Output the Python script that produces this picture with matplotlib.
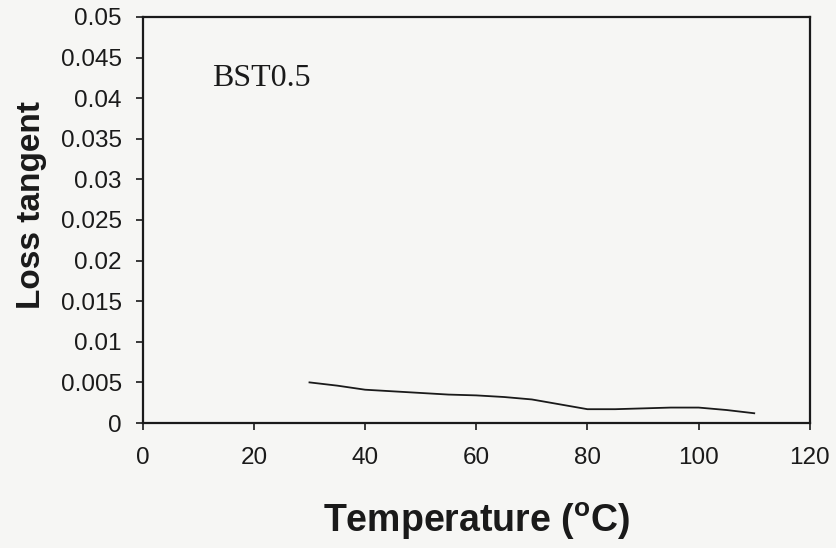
import matplotlib.pyplot as plt

# Loss tangent of BST0.5 versus temperature
temperature = [30, 35, 40, 45, 50, 55, 60, 65, 70, 75, 80, 85, 90, 95, 100, 105, 110]
loss_tangent = [0.0050, 0.0046, 0.0041, 0.0039, 0.0037, 0.0035, 0.0034, 0.0032, 0.0029,
                0.0023, 0.0017, 0.0017, 0.0018, 0.0019, 0.0019, 0.0016, 0.0012]

xticks = [0, 20, 40, 60, 80, 100, 120]
yticks = [0, 0.005, 0.01, 0.015, 0.02, 0.025, 0.03, 0.035, 0.04, 0.045, 0.05]
ytick_labels = ['0', '0.005', '0.01', '0.015', '0.02', '0.025', '0.03',
                '0.035', '0.04', '0.045', '0.05']

plt.rcParams['font.family'] = ['Liberation Sans', 'DejaVu Sans']
plt.rcParams['mathtext.default'] = 'regular'

bg = '#f6f6f4'
ink = '#1a1a1a'
fig = plt.figure(figsize=(8.36, 5.48), dpi=100, facecolor=bg)
ax = fig.add_axes([0.1707, 0.2281, 0.798, 0.741])
ax.set_facecolor(bg)

ax.plot(temperature, loss_tangent, color=ink, linewidth=1.3)

ax.set_xlim(0, 120)
ax.set_ylim(0, 0.05)
ax.set_xticks(xticks)
ax.set_xticklabels([str(t) for t in xticks])
ax.set_yticks(yticks)
ax.set_yticklabels(ytick_labels)

for side in ['left', 'right', 'top', 'bottom']:
    ax.spines[side].set_linewidth(1.6)
    ax.spines[side].set_color(ink)
ax.tick_params(direction='out', length=5, width=1.2, labelsize=17.5,
               colors=ink)
ax.tick_params(axis='y', pad=10)
ax.tick_params(axis='x', pad=12)

ax.set_xlabel(r'Temperature ($^{o}$C)', fontsize=27, fontweight='bold',
              color=ink, labelpad=23)
ax.set_ylabel('Loss tangent', fontsize=24, fontweight='bold',
              color=ink, labelpad=10)
ax.yaxis.label.set_y(0.537)

ax.text(12.4, 0.0424, 'BST0.5', family='Liberation Serif', fontsize=23,
        color=ink, va='center', ha='left')

fig.savefig('out.png', dpi=100, facecolor=bg)
